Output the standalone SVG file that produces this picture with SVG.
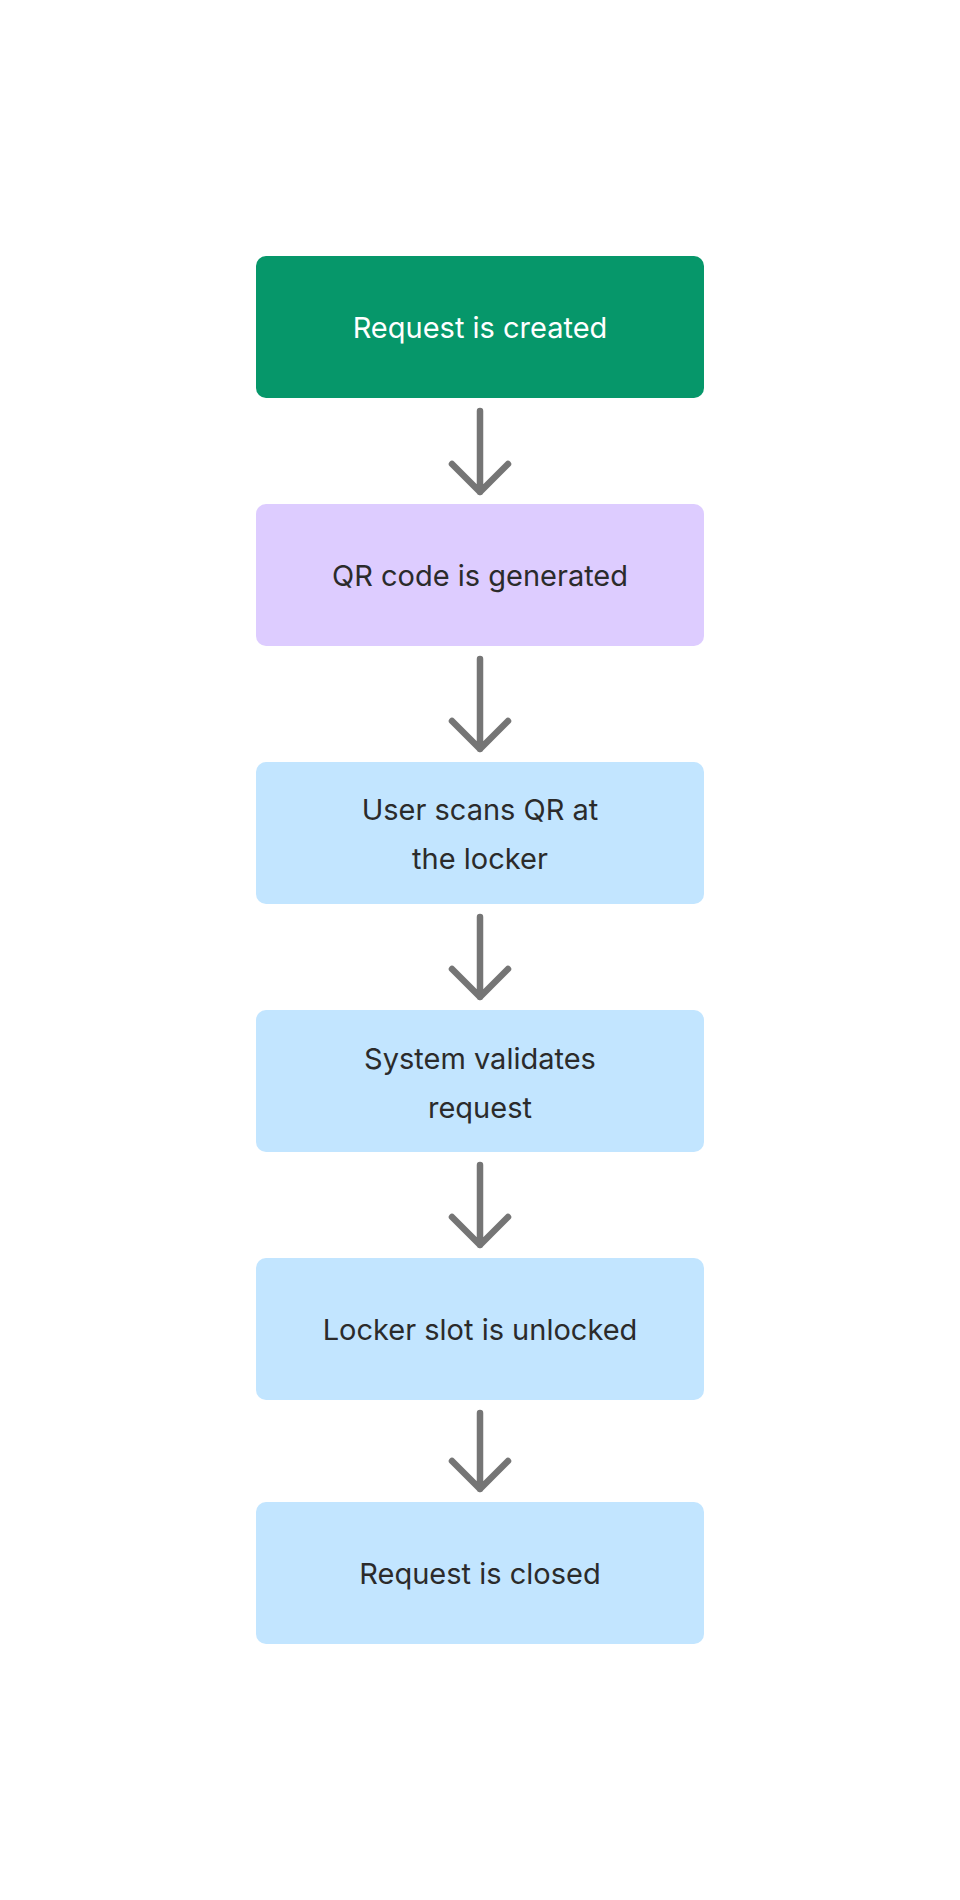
<svg xmlns="http://www.w3.org/2000/svg" width="960" height="1900" viewBox="0 0 960 1900">
<style>
.t{font-family:Inter,"Noto Sans",sans-serif;font-size:29px;fill:#2b2b2b;text-anchor:middle}
.w{fill:#ffffff}
.c{stroke:#757575;stroke-width:6.5;fill:none;stroke-linecap:round;stroke-linejoin:round}
</style>
<rect width="960" height="1900" fill="#ffffff"/>
<g id="n1"><rect x="256" y="256" width="448" height="142" rx="10" fill="#06976A"/><text class="t w" x="480" y="338">Request is created</text></g>
<g id="n2"><rect x="256" y="504" width="448" height="142" rx="10" fill="#DDCCFF"/><text class="t" x="480" y="586">QR code is generated</text></g>
<g id="n3"><rect x="256" y="762" width="448" height="142" rx="10" fill="#C2E5FF"/><text class="t" x="480" y="820">User scans QR at</text><text class="t" x="480" y="869">the locker</text></g>
<g id="n4"><rect x="256" y="1010" width="448" height="142" rx="10" fill="#C2E5FF"/><text class="t" x="480" y="1069">System validates</text><text class="t" x="480" y="1118">request</text></g>
<g id="n5"><rect x="256" y="1258" width="448" height="142" rx="10" fill="#C2E5FF"/><text class="t" x="480" y="1340">Locker slot is unlocked</text></g>
<g id="n6"><rect x="256" y="1502" width="448" height="142" rx="10" fill="#C2E5FF"/><text class="t" x="480" y="1584">Request is closed</text></g>
<g id="connectors">
<path class="c" d="M480 411V492M452 464L480 492L508 464"/>
<path class="c" d="M480 659V749M452 721L480 749L508 721"/>
<path class="c" d="M480 917V997M452 969L480 997L508 969"/>
<path class="c" d="M480 1165V1245M452 1217L480 1245L508 1217"/>
<path class="c" d="M480 1413V1489M452 1461L480 1489L508 1461"/>
</g>
</svg>
